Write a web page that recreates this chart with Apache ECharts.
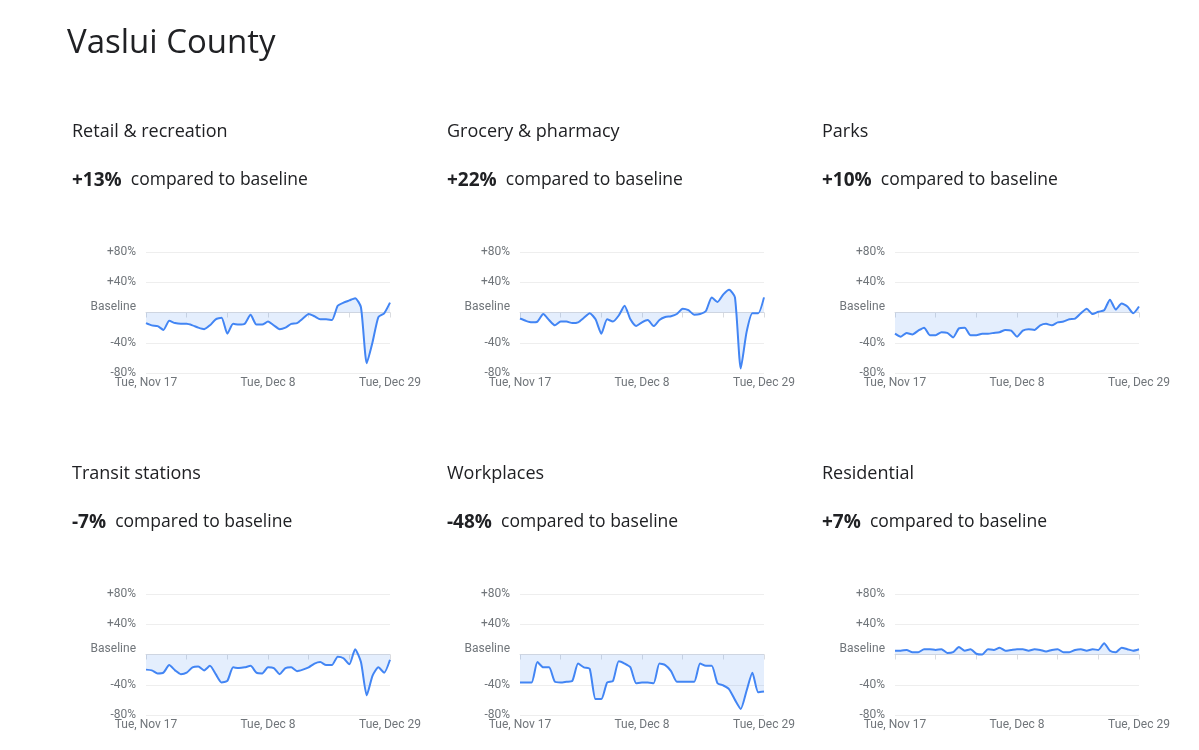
<!DOCTYPE html>
<html><head><meta charset="utf-8">
<script src="https://cdn.jsdelivr.net/npm/echarts@6/dist/echarts.min.js"></script>
<style>html,body{margin:0;background:#fff}#c{width:1199px;height:750px}</style>
</head><body><div id="c"></div>
<script>
const pageTitle = "Vaslui County";
const panelNames = ["Retail & recreation","Grocery & pharmacy","Parks","Transit stations","Workplaces","Residential"];
const headline = ["+13%","+22%","+10%","-7%","-48%","+7%"];
const yTicks = {"80":"+80%","40":"+40%","0":"Baseline","-40":"-40%","-80":"-80%"};
const retail = [-14,-17,-18,-23,-11,-14,-15,-15,-17,-20,-22,-17,-9,-7,-28,-15,-16,-15,-3,-16,-16,-12,-17,-22,-20,-15,-14,-8,-2,-5,-9,-9,-10,9,13,16,19,7,-67,-39,-6,-1,13];
const grocery = [-8,-11,-13,-12,-2,-10,-17,-12,-12,-14,-13,-7,-1,-9,-28,-9,-12,-4,9,-9,-18,-13,-10,-18,-10,-6,-5,-2,5,3,-3,-2,2,20,14,24,30,20,-74,-26,-1,-1,20];
const parks = [-28,-32,-27,-29,-24,-20,-30,-30,-26,-27,-33,-21,-20,-30,-30,-28,-28,-27,-26,-23,-24,-32,-24,-22,-23,-17,-15,-17,-13,-12,-9,-8,-1,5,-2,1,3,17,4,12,8,-1,8];
const transit = [-20,-21,-25,-24,-14,-21,-26,-24,-17,-16,-21,-15,-26,-37,-35,-17,-18,-17,-15,-24,-25,-17,-18,-26,-18,-17,-22,-20,-17,-12,-10,-14,-14,-3,-5,-13,7,-10,-54,-28,-17,-24,-7];
const workplaces = [-37,-37,-37,-10,-17,-17,-36,-37,-36,-35,-12,-17,-19,-59,-59,-37,-35,-9,-12,-17,-38,-37,-37,-38,-12,-14,-22,-36,-36,-36,-36,-12,-15,-15,-38,-41,-46,-60,-72,-48,-24,-50,-49];
const residential = [5,5,6,3,3,7,7,6,7,2,3,10,5,7,1,0,7,6,9,5,6,7,7,5,7,6,4,6,7,3,3,6,7,5,7,6,15,5,3,9,7,5,7];
const seriesData = [retail,grocery,parks,transit,workplaces,residential];
const xLabels = {0:"Tue, Nov 17",21:"Tue, Dec 8",42:"Tue, Dec 29"};
const dates = [];
{const d0=new Date(2020,10,17);for(let i=0;i<43;i++){const d=new Date(d0);d.setDate(d0.getDate()+i);dates.push(d.toDateString());}}

const chart = echarts.init(document.getElementById('c'));
const colX=[146,520,895], rowY=[252,594], pw=244, ph=121;
const titleX=[72,447,822], rowT=[131,473];
const grid=[],xAxis=[],yAxis=[],series=[],title=[{text:pageTitle,left:62,top:22,textStyle:{fontFamily:'Open Sans',fontWeight:'normal',fontSize:33,color:'#202124'}}];
const graphic=[];
seriesData.forEach((data,i)=>{
  const c=i%3,r=Math.floor(i/3);
  grid.push({left:colX[c],top:rowY[r],width:pw,height:ph});
  graphic.push({type:'text',left:titleX[c],top:rowT[r]-8,style:{text:panelNames[i],font:'18px "Open Sans"',fill:'#202124'}});
  graphic.push({type:'text',left:titleX[c],top:rowT[r]+40,style:{rich:{b:{font:'bold 19px "Open Sans"',fill:'#202124'},n:{font:'17.5px "Open Sans"',fill:'#202124'}},text:'{b|'+headline[i]+'}{n|  compared to baseline}'}});
  xAxis.push({type:'category',gridIndex:i,data:dates,boundaryGap:false,
    axisLine:{show:true,lineStyle:{color:'#dadce0'}},
    axisTick:{show:true,interval:(idx)=>idx%7===0,length:5,lineStyle:{color:'#dadce0'}},
    axisLabel:{interval:0,formatter:(v,idx)=>xLabels[idx]||'',color:'#70757a',fontSize:12,fontFamily:'Roboto',margin:4},
    splitLine:{show:false}});
  yAxis.push({type:'value',gridIndex:i,min:-80,max:80,interval:40,
    axisLine:{show:false},axisTick:{show:false},
    axisLabel:{formatter:v=>v===0?'{b|Baseline}':yTicks[v],color:'#70757a',fontSize:12,fontFamily:'Roboto',margin:10,
      rich:{b:{color:'#70757a',fontSize:12,fontFamily:'Roboto',padding:[0,0,12,0]}}},
    splitLine:{lineStyle:{color:'#eeeeee'}}});
  series.push({type:'line',xAxisIndex:i,yAxisIndex:i,data:data,symbol:'none',smooth:0.2,
    lineStyle:{color:'#4285f4',width:2},itemStyle:{color:'#4285f4'},
    areaStyle:{color:'rgba(66,133,244,0.2)',origin:0}});
});
chart.setOption({animation:false,title,grid,xAxis,yAxis,series,graphic});
</script></body></html>
